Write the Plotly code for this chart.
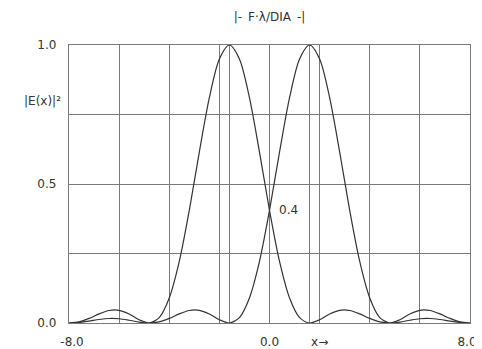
import plotly.graph_objects as go

# sample positions (x) and intensities
x_vals = [round(-8 + 0.4 * k, 1) for k in range(41)]
left_curve = [0.0, 0.0042, 0.0165, 0.0328, 0.0450, 0.0457, 0.0324, 0.0117, 0.0,
              0.0194, 0.0901, 0.2214, 0.4053, 0.6150, 0.8106, 0.9497, 1.0,
              0.9497, 0.8106, 0.6150, 0.4053, 0.2214, 0.0901, 0.0194, 0.0,
              0.0117, 0.0324, 0.0457, 0.0450, 0.0328, 0.0165, 0.0042, 0.0,
              0.0033, 0.0100, 0.0153, 0.0162, 0.0126, 0.0067, 0.0018, 0.0]
right_curve = list(reversed(left_curve))

x_tickvals = [-8, -6, -4, -2, -1.6, 0, 1.6, 2, 4, 6, 8]
x_ticktext = ["\u2002-8.0", "", "", "", "", "0.0", "", "x→", "", "", "8.0\u2002"]
y_tickvals = [0, 0.25, 0.5, 0.75, 1.0]
y_ticktext = ["0.0", "", "0.5", "", "1.0"]
crossing_label = "0.4"
crossing_x, crossing_y = 0.0, 0.405

LINE = "#333333"
GRID = "#7a7a7a"
FONT = dict(family="DejaVu Sans, Arial, sans-serif", size=12, color="#333")

W, H = 474, 341  # page body has an 8px offset

fig = go.Figure()
for ys in (left_curve, right_curve):
    fig.add_trace(go.Scatter(x=x_vals, y=ys, mode="lines",
                             line=dict(color=LINE, width=1.2, shape="spline", smoothing=0.8),
                             showlegend=False, hoverinfo="skip"))

fig.add_annotation(x=crossing_x, y=crossing_y, text=crossing_label, showarrow=False,
                   xanchor="left", yanchor="middle", xshift=7, font=FONT)
fig.add_annotation(xref="paper", yref="y", x=-0.015, y=0.8, text="|E(x)|²",
                   showarrow=False, xanchor="right", yanchor="middle", font=FONT)

fig.update_layout(
    width=W, height=H,
    margin=dict(l=61, r=12, t=37, b=26, autoexpand=False),
    paper_bgcolor="white", plot_bgcolor="white",
    font=FONT,
    title=dict(text="|-\u2002F·λ/DIA\u2002-|", x=0.5, xref="paper", xanchor="center",
               y=1 - 9 / H, yanchor="middle", font=FONT, automargin=False),
)
fig.update_xaxes(range=[-8, 8], tickmode="array", tickvals=x_tickvals, ticktext=x_ticktext,
                 showgrid=True, gridcolor=GRID, gridwidth=1, zeroline=False,
                 showline=True, linecolor=GRID, linewidth=1.2, mirror=True,
                 ticks="", ticklabelstandoff=7, tickfont=FONT, automargin=False,
                 ticklabeloverflow="allow")
fig.update_yaxes(range=[0, 1], tickmode="array", tickvals=y_tickvals, ticktext=y_ticktext,
                 showgrid=True, gridcolor=GRID, gridwidth=1.4, zeroline=False,
                 showline=True, linecolor=GRID, linewidth=1.4, mirror=True,
                 ticks="", ticklabelstandoff=9, tickfont=FONT, automargin=False)

fig.write_html("out.html")
